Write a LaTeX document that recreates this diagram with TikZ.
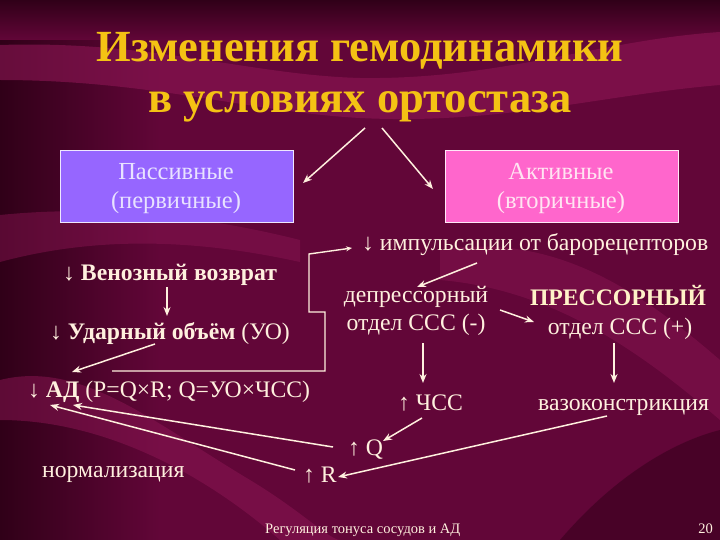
\documentclass[tikz,border=0pt]{standalone}
\usepackage{fontspec}
\setmainfont{Liberation Serif}
\usetikzlibrary{arrows.meta}
\definecolor{bgmain}{RGB}{98,6,56}
\definecolor{bgdark}{RGB}{48,0,24}
\definecolor{bglight}{RGB}{140,22,84}
\definecolor{cream}{RGB}{255,240,222}
\definecolor{gold}{RGB}{244,194,20}
\definecolor{passfill}{RGB}{150,102,255}
\definecolor{actfill}{RGB}{255,102,204}
\definecolor{passtext}{RGB}{232,226,255}
\definecolor{acttext}{RGB}{255,228,242}
\definecolor{presstext}{RGB}{255,242,200}
\begin{document}
\begin{tikzpicture}[x=1pt,y=-1pt,
  txt/.style={text=cream, font=\fontsize{23.7}{28}\selectfont, inner sep=0pt},
  boxtxt/.style={font=\fontsize{24.5}{28}\selectfont, inner sep=0pt, anchor=base},
  small/.style={text=cream, font=\fontsize{14.5}{17}\selectfont, inner sep=0pt},
  ttl/.style={text=gold, font=\fontsize{44.5}{50}\selectfont\bfseries, inner sep=0pt, anchor=base},
  boxa/.style={draw=white!85!passfill, line width=0.8pt, fill=passfill, minimum width=233pt, minimum height=72pt, inner sep=0pt, anchor=north west},
  boxb/.style={draw=white!85!actfill, line width=0.8pt, fill=actfill, minimum width=233pt, minimum height=72pt, inner sep=0pt, anchor=north west},
  conn/.style={draw=cream, line width=1.5pt, -{Stealth[length=9pt,width=7pt]}},
  thin/.style={draw=cream, line width=1.4pt}]
% background
\useasboundingbox (0,0) rectangle (720,540);
\fill[bgmain] (0,0) rectangle (720,540);
\shade[left color=bgdark, right color=bgmain] (0,0) rectangle (160,540);
\shade[top color=bgdark, bottom color=bgmain] (0,0) rectangle (720,40);
\fill[bglight, opacity=0.6] (0,45) .. controls (150,40) and (250,75) .. (360,78) .. controls (500,80) and (600,40) .. (720,32) -- (720,85) .. controls (600,95) and (500,125) .. (360,118) .. controls (250,112) and (150,80) .. (0,80) -- cycle;
\fill[bglight, opacity=0.45] (0,215) .. controls (100,205) and (200,215) .. (300,240) -- (300,262) .. controls (200,240) and (100,235) .. (0,262) -- cycle;
\fill[bglight, opacity=0.5] (0,380) .. controls (80,360) and (150,420) .. (250,480) .. controls (300,510) and (330,540) .. (340,540) -- (280,540) .. controls (200,470) and (100,420) .. (0,420) -- cycle;
\fill[bglight, opacity=0.45] (440,250) .. controls (560,230) and (650,300) .. (720,360) -- (720,420) .. controls (650,360) and (560,290) .. (440,280) -- cycle;
\fill[bgdark, opacity=0.5] (560,540) .. controls (620,470) and (680,440) .. (720,430) -- (720,540) -- cycle;
% title
\node[ttl] (t1) at (360,62) {Изменения гемодинамики};
\node[ttl] (t2) at (360,113) {в условиях ортостаза};
% boxes
\node[boxa] (pass) at (60,150) {};
\node[boxb] (act) at (445,150) {};
\node[boxtxt, text=passtext] (p1) at (176,180) {Пассивные};
\node[boxtxt, text=passtext] (p2) at (176,208) {(первичные)};
\node[boxtxt, text=acttext] (a1) at (561,180) {Активные};
\node[boxtxt, text=acttext] (a2) at (561,208) {(вторичные)};
% texts
\node[txt, anchor=base west] (ven) at (63,280) {↓ \textbf{Венозный возврат}};
\node[txt, anchor=base west] (uo) at (50,339) {↓ \textbf{Ударный объём} (УО)};
\node[txt, anchor=base west] (ad) at (28,397) {↓ \textbf{АД} (P=Q×R; Q=УО×ЧСС)};
\node[txt, anchor=base west] (imp) at (362,250) {↓ импульсации от барорецепторов};
\node[txt, anchor=base] (dep1) at (416,302) {депрессорный};
\node[txt, anchor=base] (dep2) at (416,330) {отдел ССС (-)};
\node[txt, text=presstext, anchor=base] (pr1) at (618,305) {\textbf{ПРЕССОРНЫЙ}};
\node[txt, anchor=base] (pr2) at (620,334) {отдел ССС (+)};
\node[txt, anchor=base west] (hr) at (398,410) {↑ ЧСС};
\node[txt, anchor=base west] (vaso) at (538,410) {вазоконстрикция};
\node[txt, anchor=base west] (q) at (348,455) {↑ Q};
\node[txt, anchor=base west] (r) at (303,482) {↑ R};
\node[txt, anchor=base west] (norm) at (42,477) {нормализация};
\node[small, anchor=base west] (foot) at (265,533) {Регуляция тонуса сосудов и АД};
\node[small, anchor=base east] (pg) at (713,533) {20};
% connector end points
\coordinate (tA) at (365,128); \coordinate (tB) at (382,128);
\coordinate (pE) at (303,183); \coordinate (aE) at (433,189);
\coordinate (v1) at (167,287); \coordinate (v2) at (167,316);
\coordinate (u1) at (155,344); \coordinate (u2) at (72,372);
\coordinate (i1) at (477,263); \coordinate (i2) at (417,287);
\coordinate (d1) at (500,310); \coordinate (d2) at (534,322);
\coordinate (d3) at (423,343); \coordinate (d4) at (423,383);
\coordinate (s1) at (614,343); \coordinate (s2) at (614,383);
\coordinate (h1) at (422,418); \coordinate (h2) at (383,441);
\coordinate (c1) at (607,416); \coordinate (c2) at (338,477);
\coordinate (q1) at (333,447); \coordinate (q2) at (73,405);
\coordinate (r1) at (295,470); \coordinate (r2) at (50,405);
\coordinate (f1) at (112,371); \coordinate (f2) at (325,371);
\coordinate (f3) at (325,312); \coordinate (f4) at (309,312);
\coordinate (f5) at (309,254); \coordinate (f6) at (352,248);
% connectors
\draw[conn] (tA) -- (pE);
\draw[conn] (tB) -- (aE);
\draw[conn] (v1) -- (v2);
\draw[conn] (u1) -- (u2);
\draw[conn] (i1) -- (i2);
\draw[conn] (d1) -- (d2);
\draw[conn] (d3) -- (d4);
\draw[conn] (s1) -- (s2);
\draw[conn] (h1) -- (h2);
\draw[conn] (c1) -- (c2);
\draw[conn] (q1) -- (q2);
\draw[conn] (r1) -- (r2);
\draw[thin, -{Stealth[length=6pt,width=5pt]}] (f1) -- (f2) -- (f3) -- (f4) -- (f5) -- (f6);
\end{tikzpicture}
\end{document}
